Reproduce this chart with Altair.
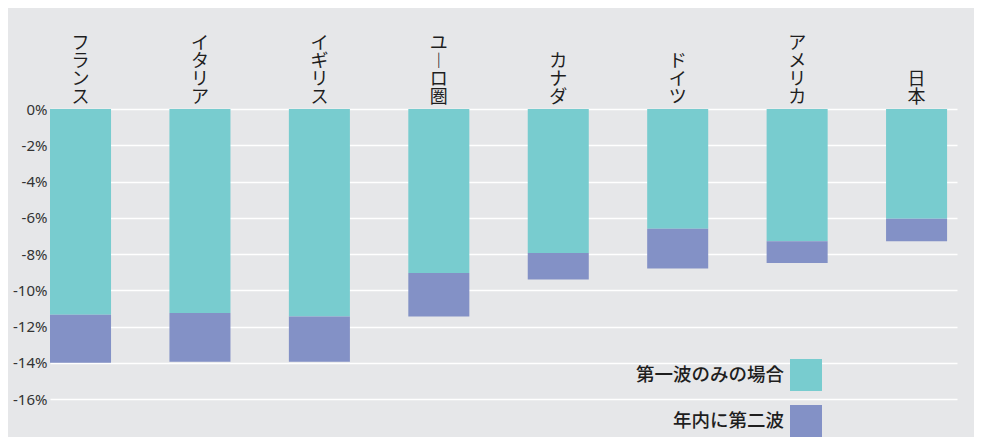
import altair as alt
import pandas as pd

countries = ["フランス", "イタリア", "イギリス", "ユーロ圏", "カナダ", "ドイツ", "アメリカ", "日本"]
first_wave = [-11.35, -11.25, -11.45, -9.05, -7.95, -6.6, -7.3, -6.05]
with_second_wave = [-14.0, -13.95, -13.95, -11.45, -9.4, -8.8, -8.5, -7.3]
series_names = ["第一波のみの場合", "年内に第二波"]
series_colors = ["#78cccf", "#8391c6"]
y_ticks = [0, -2, -4, -6, -8, -10, -12, -14, -16]

rows = []
for c, f, t in zip(countries, first_wave, with_second_wave):
    rows.append({"country": c, "series": series_names[0], "value": f, "order": 0})
    rows.append({"country": c, "series": series_names[1], "value": round(t - f, 2), "order": 1})
df = pd.DataFrame(rows)

# vertical (top-to-bottom) labels: one row per character, counted from the bottom
char_rows = []
for c in countries:
    chars = list(c.replace("ー", "︱"))
    n = len(chars)
    for i, ch in enumerate(chars):
        char_rows.append({"country": c, "ch": ch, "k": n - 1 - i})
chars_df = pd.DataFrame(char_rows)

PLOT_W, PLOT_H = 907, 290
LINE_H = 18

xscale = alt.Scale(paddingInner=0.489, paddingOuter=0.0415, align=0)

bars = alt.Chart(df).mark_bar().encode(
    x=alt.X("country:N", sort=countries, axis=None, scale=xscale),
    y=alt.Y(
        "value:Q",
        stack="zero",
        scale=alt.Scale(domain=[-16, 0], nice=False),
        axis=alt.Axis(
            values=y_ticks,
            labelExpr="datum.value + '%'",
            title=None,
            domain=False,
            ticks=False,
            grid=True,
            gridColor="white",
            gridWidth=1.5,
            labelFontSize=15,
            labelColor="#333333",
            labelFont="Noto Sans",
            labelPadding=3,
            labelOverlap=False,
        ),
    ),
    color=alt.Color(
        "series:N",
        sort=series_names,
        scale=alt.Scale(domain=series_names, range=series_colors),
        legend=alt.Legend(
            title=None,
            orient="none",
            legendX=740,
            legendY=250,
            direction="vertical",
            symbolType="square",
            symbolSize=1024,
            symbolStrokeWidth=0,
            symbolOpacity=1,
            labelFontSize=18.5,
            labelFont="Noto Sans CJK JP",
            labelFontWeight=500,
            labelColor="#1e1e1e",
            labelAlign="right",
            labelOffset={"expr": "-38"},
            rowPadding=14,
            labelLimit=300,
        ),
    ),
    order=alt.Order("order:Q"),
)

text = alt.Chart(chars_df).mark_text(
    baseline="bottom",
    fontSize=18,
    font="Noto Sans CJK JP",
    color="#1e1e1e",
    dy=-2,
).encode(
    x=alt.X("country:N", sort=countries, axis=None, scale=xscale),
    y=alt.Y("k:Q", axis=None, scale=alt.Scale(domain=[-PLOT_H / LINE_H, 0], nice=False, zero=False)),
    text="ch:N",
)

chart = alt.layer(bars, text).resolve_scale(y="independent").properties(
    width=PLOT_W,
    height=PLOT_H,
    autosize=alt.AutoSizeParams(type="none"),
    padding={"left": 42, "top": 101, "right": 17, "bottom": 38},
    background="#e6e7e9",
).configure_view(stroke=None)

chart.save("out.html", embed_options={"renderer": "svg", "actions": False})
